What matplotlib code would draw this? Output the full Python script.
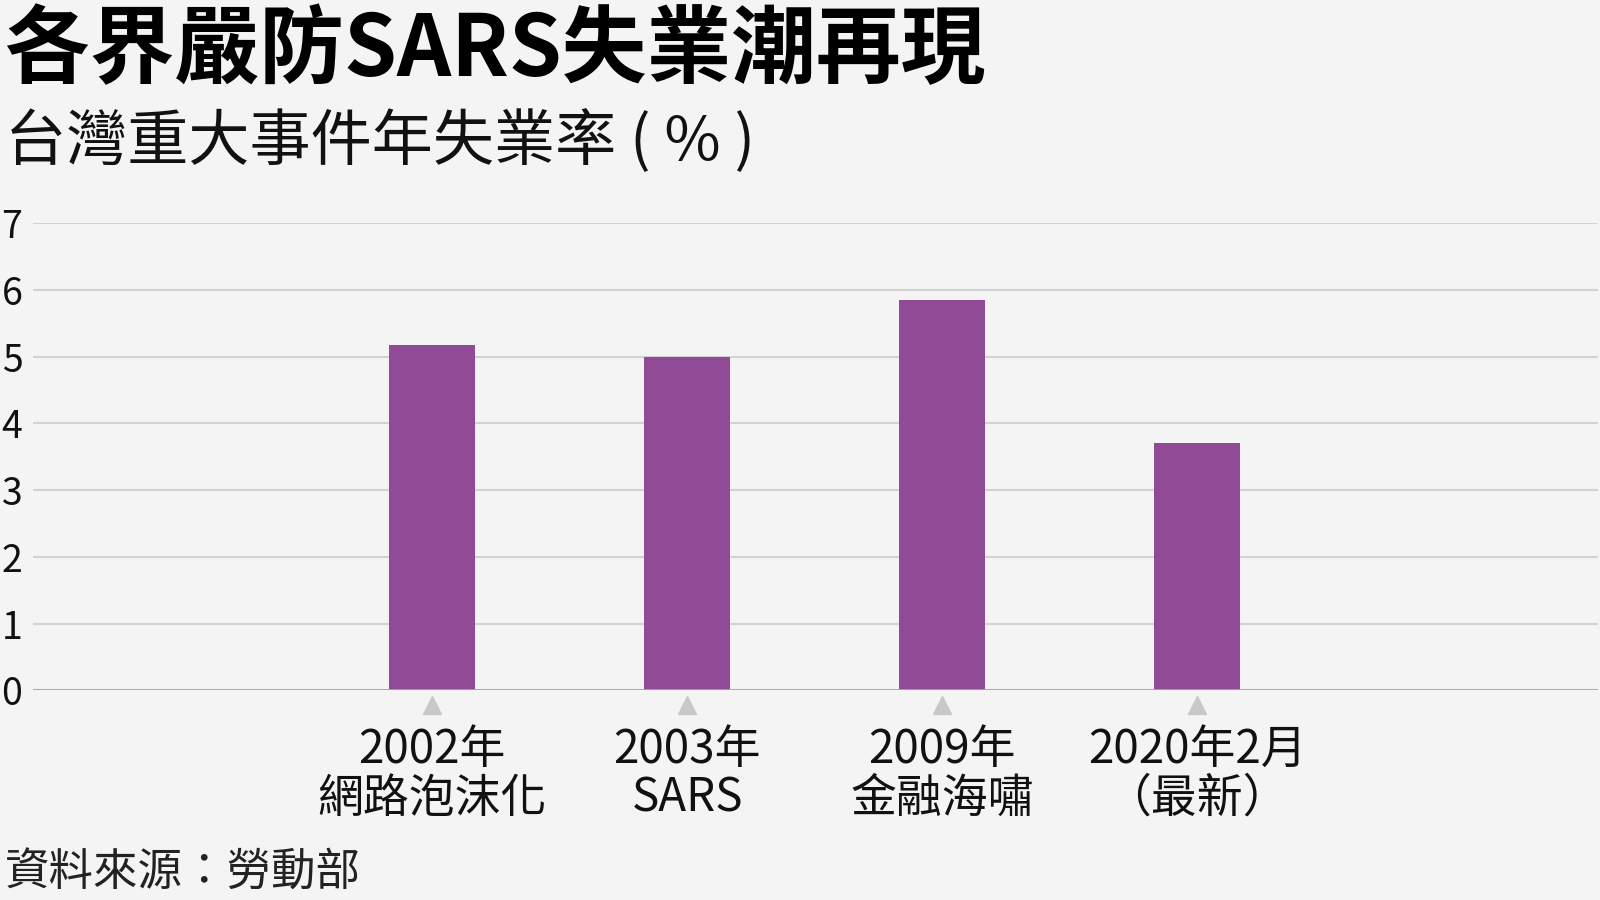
import numpy as np
import matplotlib
matplotlib.use("Agg")
import matplotlib.pyplot as plt
import matplotlib.transforms as mtransforms

plt.rcParams['font.family'] = ['Noto Sans CJK TC', 'DejaVu Sans']

# data
events = ["2002年\n網路泡沫化", "2003年\nSARS", "2009年\n金融海嘯", "2020年2月\n（最新）"]
rates = [5.17, 5.0, 5.85, 3.7]
yticks = [0, 1, 2, 3, 4, 5, 6, 7]

title = "各界嚴防SARS失業潮再現"
subtitle = "台灣重大事件年失業率 ( % )"
source = "資料來源：勞動部"

bg = "#f4f4f4"
bar_col = "#904a96"

fig = plt.figure(figsize=(16, 9), dpi=100, facecolor=bg)
ax = fig.add_axes([0.0206, 0.233, 0.978, 0.519], facecolor=bg)

x = np.arange(len(rates))
ax.bar(x, rates, width=0.337, color=bar_col, zorder=3)

ax.set_xlim(-1.565, 4.57)
ax.set_ylim(0, 7)
ax.set_yticks(yticks)
ax.yaxis.grid(True, color="#d2d2d2", linewidth=1.5, zorder=0)
ax.axhline(0, color="#a8a8a8", linewidth=2, zorder=4)
for s in ax.spines.values():
    s.set_visible(False)
ax.tick_params(axis='y', length=0, pad=4)
ax.set_yticklabels([str(v) for v in yticks], fontsize=27, color="#111111",
                   fontweight='light', ha='left')
for lbl in ax.get_yticklabels():
    lbl.set_x(-0.0165)

ax.set_xticks(x)
ax.set_xticklabels(events, fontsize=33, color="#111111", fontweight='medium',
                   linespacing=1.02)
ax.tick_params(axis='x', length=0, pad=25)

# small grey triangles under each bar
tr = mtransforms.blended_transform_factory(ax.transData, ax.transAxes)
ax.plot(x, np.full(len(x), -0.032), linestyle='none', marker='^', markersize=13,
        color="#c8c8c8", transform=tr, clip_on=False, zorder=5)

fig.text(0.003, 0.992, title, fontsize=61, fontweight='bold', va='top', ha='left', color="#000000")
fig.text(0.003, 0.878, subtitle, fontsize=44, fontweight='light', va='top', ha='left', color="#111111")
fig.text(0.003, 0.005, source, fontsize=32, fontweight='light', va='bottom', ha='left', color="#222222")

fig.savefig("out.png", dpi=100, facecolor=bg)
